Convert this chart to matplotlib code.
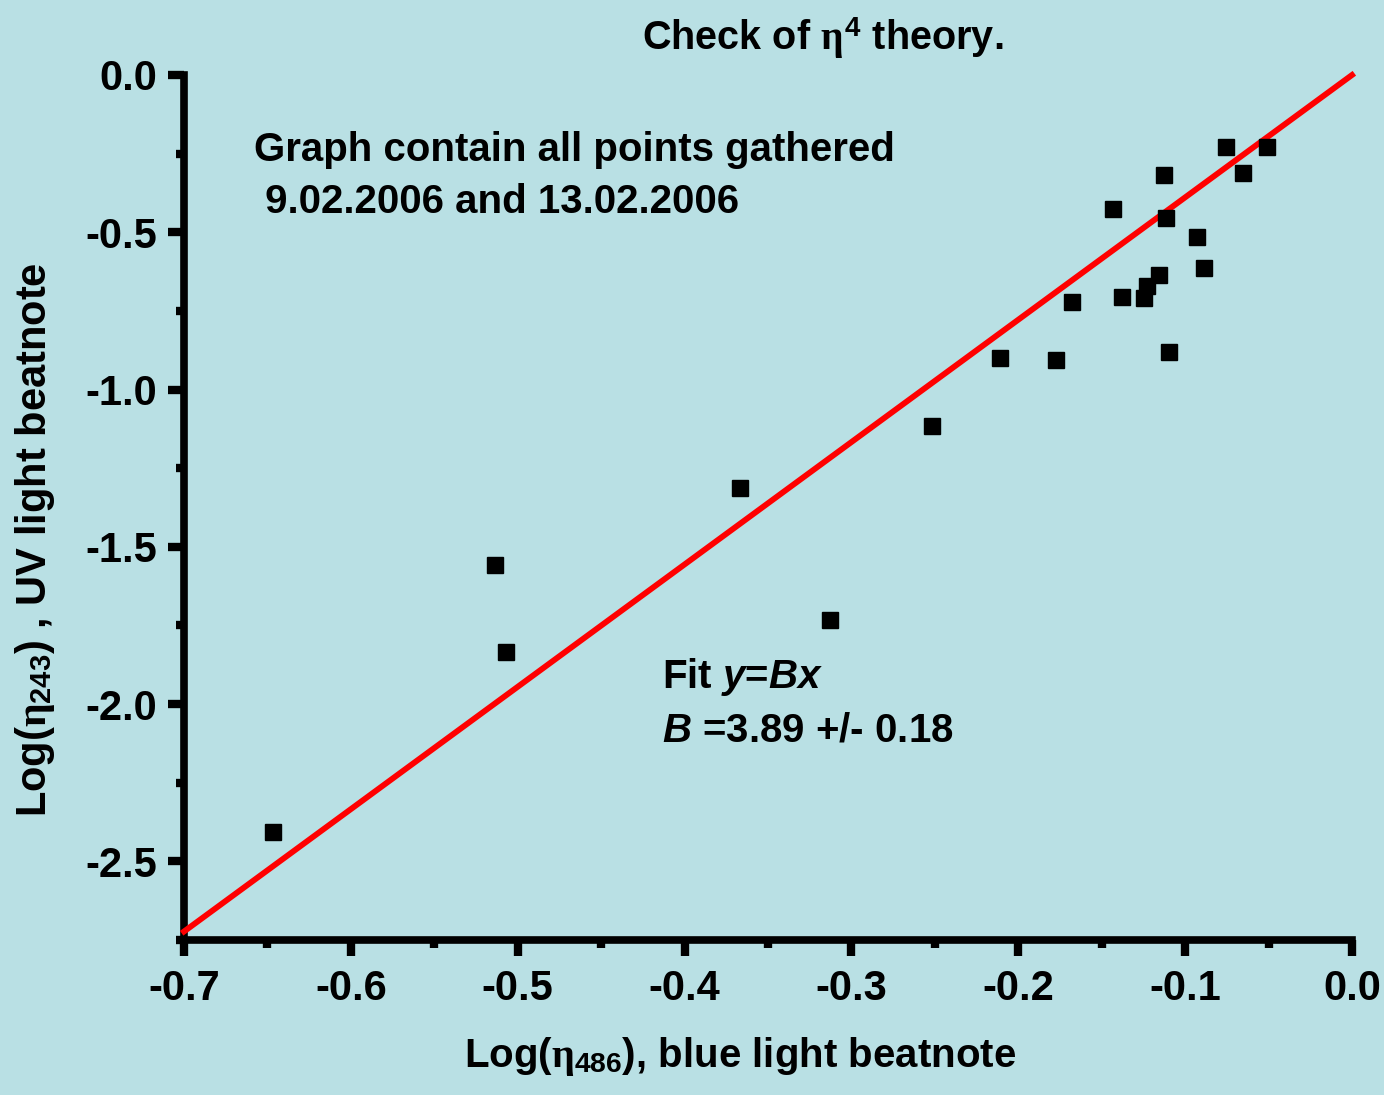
import numpy as np
import matplotlib
matplotlib.use("Agg")
import matplotlib.pyplot as plt
from matplotlib.ticker import MultipleLocator, FormatStrFormatter

# ===============================
# FONTS
# ===============================
plt.rcParams.update({
    "font.family": "Liberation Sans",
    "font.weight": "bold",
    "mathtext.fontset": "custom",
    "mathtext.rm": "Liberation Sans:bold",
    "mathtext.it": "Liberation Serif",
    "mathtext.bf": "Liberation Sans:bold",
    "mathtext.bfit": "Liberation Sans:italic:bold",
})

# ===============================
# DATA
# ===============================
log_blue = [-0.6467, -0.5136, -0.5070, -0.3668, -0.3128, -0.2517, -0.2110,
            -0.1774, -0.1678, -0.1431, -0.1378, -0.1245, -0.1227, -0.1157,
            -0.1125, -0.1115, -0.1097, -0.0927, -0.0887, -0.0753, -0.0652,
            -0.0508]
log_uv = [-2.408, -1.559, -1.835, -1.314, -1.733, -1.116, -0.900,
          -0.906, -0.722, -0.425, -0.707, -0.710, -0.670, -0.636,
          -0.317, -0.456, -0.881, -0.514, -0.614, -0.230, -0.311,
          -0.229]

B = 3.89
fit_x = np.array([-0.7, 0.0])

bg = "#b9e0e4"

# ===============================
# FIGURE
# ===============================
fig = plt.figure(figsize=(13.84, 10.95), dpi=100, facecolor=bg)
ax = fig.add_axes([184 / 1384, 1 - 940 / 1095, 1168 / 1384, 865 / 1095])
ax.set_facecolor(bg)

ax.plot(fit_x, B * fit_x, color="#ff0000", linewidth=4.2, clip_on=False, zorder=3)
ax.plot(log_blue, log_uv, linestyle="none", marker="s", markersize=12,
        color="black", zorder=4)

ax.set_xlim(-0.7, 0.0)
ax.set_ylim(-2.75, 0.0)

for side in ["top", "right"]:
    ax.spines[side].set_visible(False)
for side in ["left", "bottom"]:
    ax.spines[side].set_linewidth(5.5)

ax.xaxis.set_major_locator(MultipleLocator(0.1))
ax.xaxis.set_minor_locator(MultipleLocator(0.05))
ax.yaxis.set_major_locator(MultipleLocator(0.5))
ax.yaxis.set_minor_locator(MultipleLocator(0.25))
ax.xaxis.set_major_formatter(FormatStrFormatter("%.1f"))
ax.yaxis.set_major_formatter(FormatStrFormatter("%.1f"))

ax.tick_params(which="major", direction="out", length=11.5, width=6,
               labelsize=30, pad=9.5)
ax.tick_params(axis="y", which="major", pad=7.5)
ax.tick_params(which="minor", direction="out", length=6, width=6)
for lab in ax.get_xticklabels() + ax.get_yticklabels():
    lab.set_fontweight("bold")

# ===============================
# TEXT
# ===============================
fig.text(823 / 1384, 1 - 38 / 1095, r"Check of $\eta^{4}$ theory.",
         ha="center", va="center", fontsize=28.5, fontweight="bold")

fig.text(254 / 1384, 1 - 150 / 1095, "Graph contain all points gathered",
         ha="left", va="center", fontsize=29, fontweight="bold")
fig.text(254 / 1384, 1 - 202 / 1095, " 9.02.2006 and 13.02.2006",
         ha="left", va="center", fontsize=29, fontweight="bold")

fig.text(662 / 1384, 1 - 677 / 1095, r"Fit $\mathbfit{y}$=$\mathbfit{Bx}$",
         ha="left", va="center", fontsize=29, fontweight="bold")
fig.text(662 / 1384, 1 - 730 / 1095, r"$\mathbfit{B}$ =3.89 +/- 0.18",
         ha="left", va="center", fontsize=29, fontweight="bold")

fig.text(740 / 1384, 1 - 1057 / 1095, r"Log($\eta_{486}$), blue light beatnote",
         ha="center", va="center", fontsize=29, fontweight="bold")
fig.text(35 / 1384, 1 - 540 / 1095, r"Log($\eta_{243}$) , UV light beatnote",
         ha="center", va="center", rotation=90, fontsize=30, fontweight="bold")

fig.savefig("out.png", dpi=100, facecolor=bg)
